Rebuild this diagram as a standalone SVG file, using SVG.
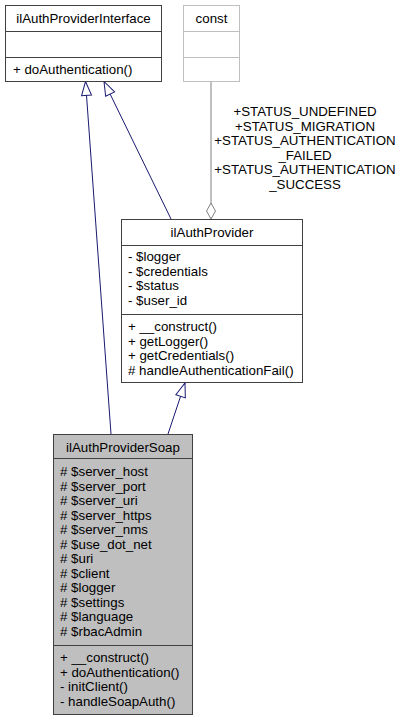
<svg xmlns="http://www.w3.org/2000/svg" width="405" height="721" viewBox="0 0 405 721">
<style>
text{font-family:"Liberation Sans",Arial,Helvetica,sans-serif;font-size:13.3px;fill:#000}
.c{text-anchor:middle}
.box{fill:#fff;stroke:#404040;stroke-width:1}
.cur{fill:#bfbfbf;stroke:#404040;stroke-width:1}
.ghost{fill:#fff;stroke:#bfbfbf;stroke-width:1}
.inh{stroke:#191970;stroke-width:1;fill:none}
.use{stroke:#808080;stroke-width:1;fill:none}
</style>
<defs>
<marker id="tri" markerUnits="userSpaceOnUse" markerWidth="16" markerHeight="12" refX="14" refY="5" orient="auto" overflow="visible">
<path d="M0,0 L14,5 L0,10 Z" fill="#fff" stroke="#191970" stroke-width="1"/>
</marker>
<marker id="dia" markerUnits="userSpaceOnUse" markerWidth="18" markerHeight="12" refX="16" refY="4.5" orient="auto" overflow="visible">
<path d="M0,4.5 L8,0 L16,4.5 L8,9 Z" fill="#fff" stroke="#808080" stroke-width="1"/>
</marker>
</defs>
<g id="edges">
<line class="inh" x1="111" y1="434" x2="85.5" y2="81.5" marker-end="url(#tri)"/>
<line class="inh" x1="171" y1="219" x2="104" y2="81.5" marker-end="url(#tri)"/>
<line class="inh" x1="168" y1="434" x2="185" y2="383" marker-end="url(#tri)"/>
<line class="use" x1="211" y1="81" x2="211" y2="219" marker-end="url(#dia)"/>
<text class="c" x="305" y="116">+STATUS_UNDEFINED</text>
<text class="c" x="305" y="131">+STATUS_MIGRATION</text>
<text class="c" x="305" y="145">+STATUS_AUTHENTICATION</text>
<text class="c" x="305" y="160">_FAILED</text>
<text class="c" x="305" y="174">+STATUS_AUTHENTICATION</text>
<text class="c" x="305" y="189">_SUCCESS</text>
</g>
<g id="ilAuthProviderInterface">
<rect class="box" x="5.5" y="5.5" width="156" height="76"/>
<line stroke="#404040" x1="5.5" y1="31.5" x2="161.5" y2="31.5"/>
<line stroke="#404040" x1="5.5" y1="57.5" x2="161.5" y2="57.5"/>
<text class="c" x="83.5" y="23">ilAuthProviderInterface</text>
<text x="13" y="74">+ doAuthentication()</text>
</g>
<g id="const">
<rect class="ghost" x="183.5" y="5.5" width="56" height="76"/>
<line stroke="#bfbfbf" x1="183.5" y1="31.5" x2="239.5" y2="31.5"/>
<line stroke="#bfbfbf" x1="183.5" y1="57.5" x2="239.5" y2="57.5"/>
<text class="c" x="211.5" y="23">const</text>
</g>
<g id="ilAuthProvider">
<rect class="box" x="121.5" y="219.5" width="181" height="163"/>
<line stroke="#404040" x1="121.5" y1="245.5" x2="302.5" y2="245.5"/>
<line stroke="#404040" x1="121.5" y1="314.5" x2="302.5" y2="314.5"/>
<text class="c" x="212" y="237">ilAuthProvider</text>
<text x="128" y="261">- $logger</text>
<text x="128" y="275.5">- $credentials</text>
<text x="128" y="290">- $status</text>
<text x="128" y="304.5">- $user_id</text>
<text x="128" y="331">+ __construct()</text>
<text x="128" y="345.5">+ getLogger()</text>
<text x="128" y="360">+ getCredentials()</text>
<text x="128" y="374.5"># handleAuthenticationFail()</text>
</g>
<g id="ilAuthProviderSoap">
<rect class="cur" x="53.5" y="434.5" width="139" height="280"/>
<line stroke="#404040" x1="53.5" y1="458.5" x2="192.5" y2="458.5"/>
<line stroke="#404040" x1="53.5" y1="645.5" x2="192.5" y2="645.5"/>
<text class="c" x="123" y="452">ilAuthProviderSoap</text>
<text x="60" y="476"># $server_host</text>
<text x="60" y="490.5"># $server_port</text>
<text x="60" y="505"># $server_uri</text>
<text x="60" y="519.5"># $server_https</text>
<text x="60" y="534"># $server_nms</text>
<text x="60" y="548.5"># $use_dot_net</text>
<text x="60" y="563"># $uri</text>
<text x="60" y="577.5"># $client</text>
<text x="60" y="592"># $logger</text>
<text x="60" y="606.5"># $settings</text>
<text x="60" y="621"># $language</text>
<text x="60" y="635.5"># $rbacAdmin</text>
<text x="60" y="662">+ __construct()</text>
<text x="60" y="676.5">+ doAuthentication()</text>
<text x="60" y="691">- initClient()</text>
<text x="60" y="705.5">- handleSoapAuth()</text>
</g>
</svg>
